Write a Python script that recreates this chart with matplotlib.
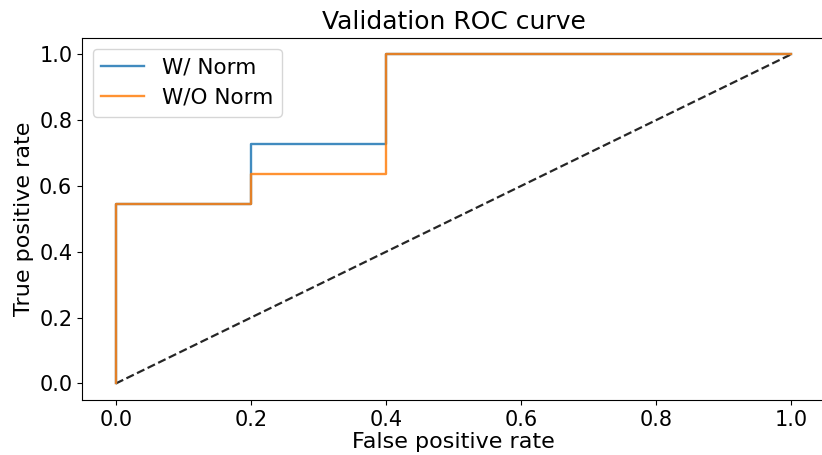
import matplotlib
matplotlib.use("Agg")
import matplotlib.pyplot as plt

# ROC points (step curves)
fpr_norm = [0.0, 0.0, 0.2, 0.2, 0.4, 0.4, 1.0]
tpr_norm = [0.0, 6 / 11, 6 / 11, 8 / 11, 8 / 11, 1.0, 1.0]
fpr_nonorm = [0.0, 0.0, 0.2, 0.2, 0.4, 0.4, 1.0]
tpr_nonorm = [0.0, 6 / 11, 6 / 11, 7 / 11, 7 / 11, 1.0, 1.0]
labels = ["W/ Norm", "W/O Norm"]

fig = plt.figure(figsize=(8.22, 4.55), dpi=100)
ax = fig.add_axes([0.0998, 0.121, 0.904, 0.796])

ax.plot([0, 1], [0, 1], "k--", lw=1.6, alpha=0.85)
ax.plot(fpr_norm, tpr_norm, color="#1f77b4", lw=1.7, alpha=0.85, label=labels[0])
ax.plot(fpr_nonorm, tpr_nonorm, color="#ff7f0e", lw=1.7, alpha=0.85, label=labels[1])

ax.set_xlim(-0.05, 1.05)
ax.set_ylim(-0.05, 1.05)
ax.set_xticks([0.0, 0.2, 0.4, 0.6, 0.8, 1.0])
ax.set_yticks([0.0, 0.2, 0.4, 0.6, 0.8, 1.0])
ax.tick_params(labelsize=15)
ax.set_xlabel("False positive rate", fontsize=16, labelpad=2)
ax.set_ylabel("True positive rate", fontsize=16)
ax.set_title("Validation ROC curve", fontsize=18)
ax.legend(loc="upper left", fontsize=15.5)

fig.savefig("out.png", dpi=100)
